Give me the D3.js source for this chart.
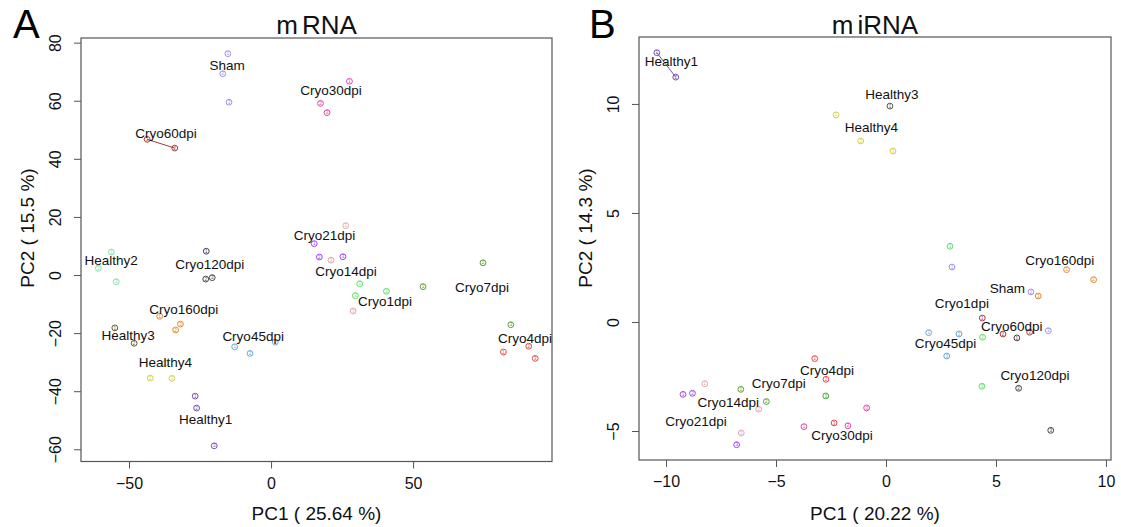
<!DOCTYPE html>
<meta charset="utf-8">
<style>
body { margin: 0; background: #fff; }
svg { font-family: "Liberation Sans", Arial, sans-serif; }
</style>
<svg width="1121" height="527"></svg>
<script src="https://cdn.jsdelivr.net/npm/d3@7"></script>
<script>

// groups and their colours
var groups = ["Sham", "Healthy1", "Healthy2", "Healthy3", "Healthy4", "Cryo1dpi", "Cryo4dpi", "Cryo7dpi",
              "Cryo14dpi", "Cryo21dpi", "Cryo30dpi", "Cryo45dpi", "Cryo60dpi", "Cryo120dpi", "Cryo160dpi"];
var groupColors = ["#9a90ee", "#7250b4", "#80e0b0", "#5a5a3a", "#d6d040", "#5ede5a", "#e84646", "#56a036",
                   "#e4a4ac", "#a044f0", "#e046a8", "#64aad4", "#a43a3a", "#44404e", "#e0882c"];

// mRNA samples
var mrnaGroup = ["Sham", "Sham", "Sham", "Cryo30dpi", "Cryo30dpi", "Cryo30dpi", "Cryo60dpi", "Cryo60dpi",
                 "Healthy2", "Healthy2", "Healthy2", "Cryo120dpi", "Cryo120dpi", "Cryo120dpi",
                 "Cryo160dpi", "Cryo160dpi", "Cryo160dpi", "Healthy3", "Healthy3",
                 "Cryo45dpi", "Cryo45dpi", "Cryo45dpi", "Healthy4", "Healthy4", "Healthy4",
                 "Healthy1", "Healthy1", "Healthy1", "Cryo21dpi", "Cryo21dpi", "Cryo21dpi",
                 "Cryo14dpi", "Cryo14dpi", "Cryo14dpi", "Cryo1dpi", "Cryo1dpi", "Cryo1dpi",
                 "Cryo7dpi", "Cryo7dpi", "Cryo7dpi", "Cryo4dpi", "Cryo4dpi", "Cryo4dpi"];
var mrnaPC1 = [-15.2, -17.0, -14.8, 27.6, 17.4, 19.7, -43.6, -33.9,
               -56.2, -60.8, -54.5, -22.8, -23.0, -20.7,
               -39.2, -33.6, -31.9, -55.0, -48.2,
               -12.8, -7.4, 1.5, -37.2, -42.5, -34.9,
               -26.7, -26.2, -20.0, 15.2, 17.0, 25.3,
               26.3, 21.1, 28.9, 31.2, 40.6, 29.7,
               53.5, 74.6, 84.4, 81.8, 90.7, 93.0];
var mrnaPC2 = [76.2, 69.3, 59.5, 66.7, 59.1, 55.9, 46.7, 43.7,
               7.9, 2.3, -2.3, 8.2, -1.4, -0.9,
               -14.2, -18.9, -16.9, -18.2, -23.5,
               -24.7, -27.0, -23.1, -30.4, -35.5, -35.6,
               -41.7, -45.8, -58.8, 10.8, 6.2, 6.3,
               17.0, 5.1, -12.4, -3.0, -5.6, -7.1,
               -4.0, 4.2, -17.1, -26.5, -24.5, -28.7];
var mrnaLabels = ["Sham", "Cryo30dpi", "Cryo60dpi", "Healthy2", "Cryo120dpi", "Cryo160dpi", "Healthy3",
                  "Cryo45dpi", "Healthy4", "Healthy1", "Cryo21dpi", "Cryo14dpi", "Cryo1dpi", "Cryo7dpi", "Cryo4dpi"];
var mrnaLabelPC1 = [-15.5, 21.1, -37.0, -56.3, -21.6, -30.7, -50.3, -6.3, -37.2, -23.0, 18.8, 26.4, 40.1, 74.3, 89.4];
var mrnaLabelPC2 = [72.3, 63.7, 49.0, 5.1, 3.8, -11.7, -20.7, -21.1, -30.1, -49.5, 13.9, 1.3, -9.1, -4.2, -21.7];
var mrnaLinked = ["Cryo60dpi"];

// miRNA samples
var mirnaGroup = ["Healthy1", "Healthy1", "Healthy3", "Healthy4", "Healthy4", "Healthy4",
                  "Sham", "Sham", "Sham", "Cryo160dpi", "Cryo160dpi", "Cryo160dpi",
                  "Cryo1dpi", "Cryo1dpi", "Cryo1dpi", "Cryo60dpi", "Cryo60dpi", "Cryo60dpi",
                  "Cryo120dpi", "Cryo120dpi", "Cryo120dpi", "Cryo45dpi", "Cryo45dpi", "Cryo45dpi",
                  "Cryo30dpi", "Cryo30dpi", "Cryo30dpi", "Cryo4dpi", "Cryo4dpi", "Cryo4dpi",
                  "Cryo7dpi", "Cryo7dpi", "Cryo7dpi", "Cryo14dpi", "Cryo14dpi", "Cryo14dpi",
                  "Cryo21dpi", "Cryo21dpi", "Cryo21dpi"];
var mirnaPC1 = [-10.42, -9.56, 0.18, -2.27, -1.15, 0.32,
                3.0, 6.59, 7.38, 8.21, 9.44, 6.92,
                2.91, 4.39, 4.36, 4.38, 5.32, 6.53,
                5.95, 6.03, 7.49, 1.94, 3.32, 2.76,
                -3.73, -1.73, -0.88, -3.24, -2.73, -2.36,
                -6.6, -5.44, -2.74, -8.24, -5.79, -6.58,
                -9.23, -8.8, -6.79];
var mirnaPC2 = [12.35, 11.23, 9.9, 9.5, 8.3, 7.84,
                2.52, 1.38, -0.4, 2.4, 1.94, 1.19,
                3.47, -0.70, -2.95, 0.18, -0.55, -0.47,
                -0.73, -3.04, -4.97, -0.49, -0.55, -1.56,
                -4.8, -4.76, -3.94, -1.68, -2.63, -4.63,
                -3.09, -3.65, -3.39, -2.83, -4.0, -5.09,
                -3.32, -3.27, -5.63];
var mirnaLabels = ["Healthy1", "Healthy3", "Healthy4", "Cryo160dpi", "Sham", "Cryo1dpi", "Cryo60dpi",
                   "Cryo45dpi", "Cryo120dpi", "Cryo4dpi", "Cryo7dpi", "Cryo14dpi", "Cryo21dpi", "Cryo30dpi"];
var mirnaLabelPC1 = [-9.76, 0.27, -0.66, 7.9, 5.52, 3.45, 5.72, 2.71, 6.77, -2.68, -4.88, -7.17, -8.64, -2.0];
var mirnaLabelPC2 = [11.94, 10.46, 8.94, 2.84, 1.53, 0.87, -0.17, -0.96, -2.43, -2.22, -2.81, -3.66, -4.53, -5.17];
var mirnaLinked = ["Healthy1"];

// axis ticks
var mrnaXTicks = [-50, 0, 50];
var mrnaYTicks = [-60, -40, -20, 0, 20, 40, 60, 80];
var mirnaXTicks = [-10, -5, 0, 5, 10];
var mirnaYTicks = [-5, 0, 5, 10];

var svg = d3.select("svg");
var color = d3.scaleOrdinal().domain(groups).range(groupColors);
var fmt = function(d) { return d < 0 ? "\u2212" + Math.abs(d) : "" + d; };

function drawPanel(p) {
  var x = d3.scaleLinear().domain(p.xDomain).range([p.left, p.right]);
  var y = d3.scaleLinear().domain(p.yDomain).range([p.bottom, p.top]);
  var g = svg.append("g");

  var xa = g.append("g")
      .attr("transform", "translate(0," + p.bottom + ")")
      .call(d3.axisBottom(x).tickValues(p.xTicks).tickSize(7).tickPadding(9).tickFormat(fmt));
  var ya = g.append("g")
      .attr("transform", "translate(" + p.left + ",0)")
      .call(d3.axisLeft(y).tickValues(p.yTicks).tickSize(7).tickFormat(fmt));
  [xa, ya].forEach(function(a) {
    a.attr("font-family", null).attr("font-size", 16);
    a.select(".domain").remove();
    a.selectAll(".tick line").attr("stroke", "#555");
    a.selectAll(".tick text").attr("fill", "#111");
  });
  ya.selectAll(".tick text")
      .attr("transform", "rotate(-90)")
      .attr("x", 0).attr("y", -20).attr("dy", 0)
      .attr("text-anchor", "middle");

  g.append("rect")
      .attr("x", p.left).attr("y", p.top)
      .attr("width", p.right - p.left).attr("height", p.bottom - p.top)
      .attr("fill", "none").attr("stroke", "#555").attr("stroke-width", 1.2);

  // pairs joined by a line
  p.linked.forEach(function(name) {
    var idx = p.group.map(function(d, i) { return d === name ? i : -1; }).filter(function(i) { return i >= 0; });
    g.append("path")
        .attr("d", d3.line()(idx.map(function(i) { return [x(p.pc1[i]), y(p.pc2[i])]; })))
        .attr("fill", "none").attr("stroke", color(name)).attr("stroke-width", 1);
  });

  var seen = {};
  var pts = p.group.map(function(d, i) {
    seen[d] = (seen[d] || 0) + 1;
    return { g: d, x: p.pc1[i], y: p.pc2[i], n: seen[d] };
  });
  var pg = g.selectAll(".pt").data(pts).enter().append("g")
      .attr("class", "pt")
      .attr("transform", function(d) { return "translate(" + x(d.x) + "," + y(d.y) + ")"; });
  pg.append("circle")
      .attr("r", 2.9)
      .attr("fill", "none")
      .attr("stroke", function(d) { return color(d.g); })
      .attr("stroke-width", 1);
  pg.append("text")
      .attr("text-anchor", "middle").attr("dy", "0.36em")
      .attr("font-size", 4.5)
      .attr("fill", function(d) { return color(d.g); })
      .text(function(d) { return d.n; });

  g.selectAll(".lab").data(p.labels).enter().append("text")
      .attr("class", "lab")
      .attr("x", function(d, i) { return x(p.labX[i]); })
      .attr("y", function(d, i) { return y(p.labY[i]); })
      .attr("dy", "0.36em")
      .attr("text-anchor", "middle")
      .attr("font-size", 13.5)
      .attr("fill", "#111")
      .text(function(d) { return d; });

  // title, with the gap after "m" as in the reference
  var cx = (p.left + p.right) / 2;
  var t = g.append("text")
      .attr("x", cx).attr("y", 34)
      .attr("text-anchor", "middle").attr("font-size", 26).attr("fill", "#111");
  t.append("tspan").text(p.title[0]);
  t.append("tspan").attr("dx", 4).text(p.title[1]);
  g.append("text")
      .attr("x", p.letterX).attr("y", 38)
      .attr("font-size", 40).attr("fill", "#000")
      .text(p.letter);
  g.append("text")
      .attr("x", cx).attr("y", 520)
      .attr("text-anchor", "middle").attr("font-size", 19).attr("fill", "#111")
      .text(p.xlab);
  g.append("text")
      .attr("transform", "translate(" + (p.left - 47) + ",228) rotate(-90)")
      .attr("text-anchor", "middle").attr("font-size", 19).attr("fill", "#111")
      .text(p.ylab);
}

drawPanel({
  left: 81, right: 552, top: 38, bottom: 461.5,
  xDomain: [-66.9, 98.9], yDomain: [-64.2, 81.6],
  xTicks: mrnaXTicks, yTicks: mrnaYTicks,
  group: mrnaGroup, pc1: mrnaPC1, pc2: mrnaPC2,
  labels: mrnaLabels, labX: mrnaLabelPC1, labY: mrnaLabelPC2, linked: mrnaLinked,
  title: ["m", "RNA"], letter: "A", letterX: 13,
  xlab: "PC1 ( 25.64 %)", ylab: "PC2 ( 15.5 %)"
});

drawPanel({
  left: 639, right: 1111, top: 37, bottom: 460,
  xDomain: [-11.23, 10.23], yDomain: [-6.33, 13.07],
  xTicks: mirnaXTicks, yTicks: mirnaYTicks,
  group: mirnaGroup, pc1: mirnaPC1, pc2: mirnaPC2,
  labels: mirnaLabels, labX: mirnaLabelPC1, labY: mirnaLabelPC2, linked: mirnaLinked,
  title: ["m", "iRNA"], letter: "B", letterX: 589,
  xlab: "PC1 ( 20.22 %)", ylab: "PC2 ( 14.3 %)"
});

</script>
